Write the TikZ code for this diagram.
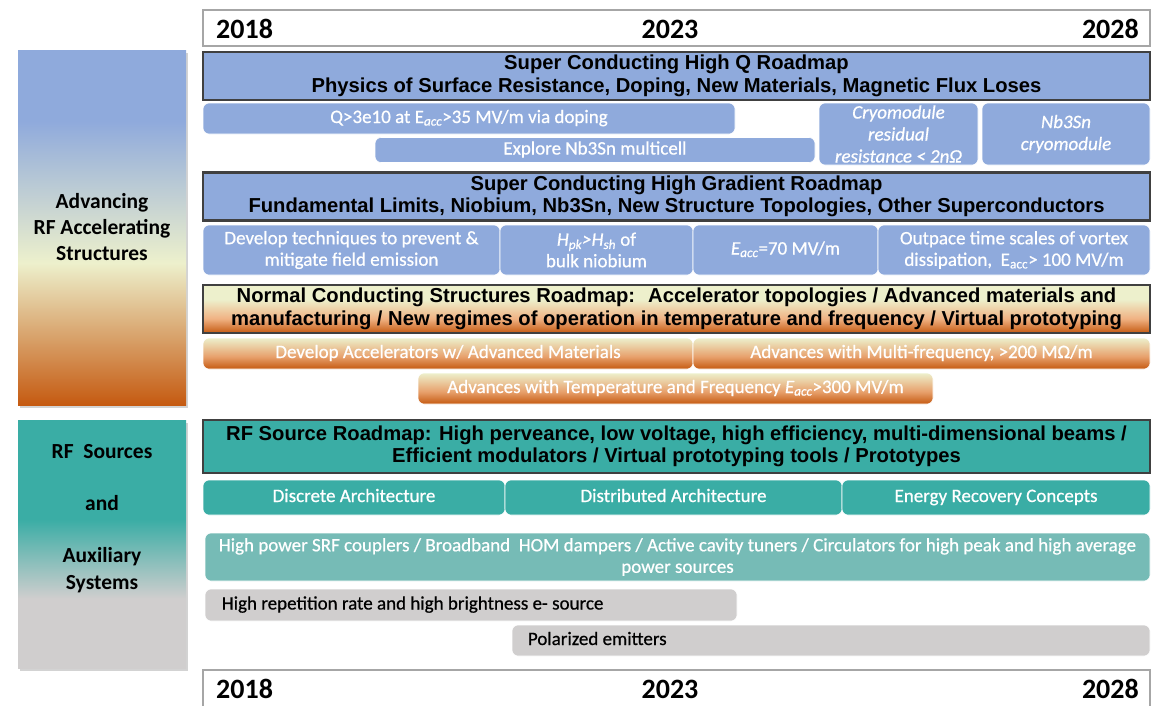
\documentclass[tikz,border=0pt]{standalone}
\usepackage{fontspec}
\setmainfont{Carlito}
\newfontfamily\arialfont{Liberation Sans}
\newfontfamily\barfont[FakeBold=0.6]{Carlito}
\usetikzlibrary{shadows}
\definecolor{sqblue}{HTML}{8FAADC}
\definecolor{rfteal}{HTML}{3AADA5}
\definecolor{ltteal}{HTML}{76BBB6}
\definecolor{auxgray}{HTML}{D0CECE}
\definecolor{ncorange}{HTML}{C55A11}
\definecolor{ltorange}{HTML}{F0B283}
\definecolor{ncpale}{HTML}{EDF0CC}
\definecolor{hdgray}{HTML}{404040}
\definecolor{yrgray}{HTML}{A6A6A6}
\pgfdeclareverticalshading{accshade}{100bp}{color(0bp)=(ncorange); color(25bp)=(ncorange); color(45bp)=(ncpale); color(65bp)=(sqblue); color(100bp)=(sqblue)}
\pgfdeclareverticalshading{auxshade}{100bp}{color(0bp)=(auxgray); color(39bp)=(auxgray); color(55bp)=(rfteal); color(100bp)=(rfteal)}
\pgfdeclareverticalshading{ncshade}{100bp}{color(0bp)=(ncorange); color(25bp)=(ncorange); color(40bp)=(ltorange); color(60bp)=(ncpale); color(100bp)=(ncpale)}
\pgfdeclareverticalshading{barshade}{100bp}{color(0bp)=(ncorange); color(25bp)=(ncorange); color(45bp)=(ltorange!80!ncorange); color(75bp)=(ncpale); color(100bp)=(ncpale)}
\begin{document}
\begin{tikzpicture}[x=1pt,y=-1pt,
  yearbox/.style={draw=yrgray, line width=1.5pt, fill=white, minimum width=947pt, minimum height=36pt},
  yeartext/.style={font=\bfseries\fontsize{28}{30}\selectfont, inner sep=0pt},
  sidepanel/.style={minimum width=168pt, align=center, drop shadow={opacity=0.35, shadow xshift=1.5pt, shadow yshift=-3pt}},
  sidetext/.style={align=center, font=\bfseries\fontsize{21.5}{26}\selectfont},
  roadmap/.style={draw=hdgray, line width=2.5pt, minimum width=947pt, align=center, font=\arialfont\bfseries\fontsize{20.2}{22.5}\selectfont},
  bar/.style={rounded corners=6pt, draw=white, line width=0.6pt, align=center, text=white, font=\barfont\fontsize{19}{21.5}\selectfont, inner sep=1pt},
  oneline/.style={text height=13pt, text depth=4pt},
  bluebar/.style={bar, fill=sqblue},
  orangebar/.style={bar, oneline, shading=barshade},
  tealbar/.style={bar, oneline, fill=rfteal},
  ltbar/.style={bar, fill=ltteal},
  graybar/.style={bar, fill=auxgray, text=black},
  bartext/.style={inner sep=0pt, oneline, font=\barfont\fontsize{19}{21.5}\selectfont}]
\useasboundingbox (0,0) rectangle (1155,705);
% time axis
\node[yearbox] (topyears) at (676.5,28) {};
\node[yeartext, anchor=west] (topfirst) at (216,29) {2018};
\node[yeartext] (topmid) at (670,29) {2023};
\node[yeartext, anchor=east] (toplast) at (1139,29) {2028};
\node[yearbox, minimum height=40pt] (botyears) at (676.5,690) {};
\node[yeartext, anchor=west] (botfirst) at (216,689) {2018};
\node[yeartext] (botmid) at (670,689) {2023};
\node[yeartext, anchor=east] (botlast) at (1139,689) {2028};
% side panels
\node[sidepanel, shading=accshade, minimum height=355pt] (accpanel) at (102,227.5) {};
\node[sidetext] (acctext) at (102,227.5) {Advancing\\RF Accelerating\\Structures};
\node[sidepanel, shading=auxshade, minimum height=248pt] (auxpanel) at (102,544) {};
\node[sidetext, font=\bfseries\fontsize{21.5}{27}\selectfont] (auxtext) at (102,518.5) {RF~~Sources\\[25pt]and\\[25pt]Auxiliary\\Systems};
% high Q
\node[roadmap, fill=sqblue, minimum height=48pt] (hqmap) at (676.5,76) {Super Conducting High Q Roadmap\\Physics of Surface Resistance, Doping, New Materials, Magnetic Flux Loses};
\node[bluebar, oneline, minimum width=532pt, minimum height=31pt] (qdope) at (469,118.5) {Q>3e10 at E\textsubscript{\textit{acc}}>35 MV/m via doping};
\node[bluebar, oneline, minimum width=440pt, minimum height=25pt] (nbmulti) at (595,150) {Explore Nb3Sn multicell};
\node[bluebar, minimum width=159pt, minimum height=62pt, font=\barfont\itshape\fontsize{19}{22}\selectfont] (cryores) at (898.5,134) {Cryomodule\\residual\\resistance < 2nΩ};
\node[bluebar, minimum width=168pt, minimum height=62pt, font=\barfont\itshape\fontsize{19}{22}\selectfont] (nbcryo) at (1066,134) {Nb3Sn\\cryomodule};
% high gradient
\node[roadmap, fill=sqblue, minimum height=47pt] (hgmap) at (676.5,196.5) {Super Conducting High Gradient Roadmap\\Fundamental Limits, Niobium, Nb3Sn, New Structure Topologies, Other Superconductors};
\node[bluebar, minimum width=297pt, minimum height=50pt] (fieldem) at (351.5,250) {Develop techniques to prevent \&\\mitigate field emission};
\node[bluebar, minimum width=193pt, minimum height=50pt] (hpk) at (596.5,250) {\textit{H\textsubscript{pk}>H\textsubscript{sh}} of\\bulk niobium};
\node[bluebar, oneline, minimum width=185pt, minimum height=50pt] (eacc) at (785.5,250) {\textit{E\textsubscript{acc}}=70 MV/m};
\node[bluebar, minimum width=272pt, minimum height=50pt] (vortex) at (1014,250) {Outpace time scales of vortex\\dissipation,~ E\textsubscript{acc}> 100 MV/m};
% normal conducting
\node[roadmap, shading=ncshade, minimum height=48pt] (ncmap) at (676.5,309) {Normal Conducting Structures Roadmap:~ Accelerator topologies / Advanced materials and\\manufacturing / New regimes of operation in temperature and frequency / Virtual prototyping};
\node[orangebar, minimum width=490pt, minimum height=31pt] (advmat) at (448,353.5) {Develop Accelerators w/ Advanced Materials};
\node[orangebar, minimum width=457pt, minimum height=31pt] (multifreq) at (921.5,353.5) {Advances with Multi-frequency, >200 MΩ/m};
\node[orangebar, minimum width=515pt, minimum height=31pt] (tempfreq) at (675.5,388.5) {Advances with Temperature and Frequency \textit{E\textsubscript{acc}}>300 MV/m};
% rf sources
\node[roadmap, fill=rfteal, minimum height=53pt] (rfmap) at (676.5,446.5) {RF Source Roadmap: High perveance, low voltage, high efficiency, multi-dimensional beams /\\Efficient modulators / Virtual prototyping tools / Prototypes};
\node[tealbar, minimum width=302pt, minimum height=35pt] (discrete) at (354,497.5) {Discrete Architecture};
\node[tealbar, minimum width=337pt, minimum height=35pt] (distrib) at (673.5,497.5) {Distributed Architecture};
\node[tealbar, minimum width=308pt, minimum height=35pt] (energy) at (996,497.5) {Energy Recovery Concepts};
\node[ltbar, minimum width=945pt, minimum height=48pt] (couplers) at (677.5,557) {High power SRF couplers / Broadband~ HOM dampers / Active cavity tuners / Circulators for high peak and high average\\power sources};
\node[graybar, minimum width=532pt, minimum height=32pt] (hirep) at (471,605) {};
\node[bartext, anchor=west] (hireptext) at ([xshift=17pt]hirep.west) {High repetition rate and high brightness e- source};
\node[graybar, minimum width=638pt, minimum height=31pt] (polar) at (831,640.5) {};
\node[bartext, anchor=west] (polartext) at ([xshift=16pt]polar.west) {Polarized emitters};
\end{tikzpicture}
\end{document}
